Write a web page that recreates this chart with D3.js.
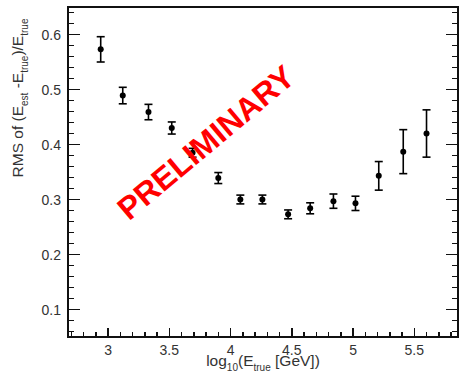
<!DOCTYPE html>
<html lang="en">
	<head>
		<meta charset="utf-8">
		<title>RMS vs log10 E</title>
		<script type="text/javascript" src="https://d3js.org/d3.v7.min.js"></script>
		<style type="text/css">
			body { margin:0; background:#fff; }
			svg text { font-family: "Liberation Sans", Arial, sans-serif; }
			.axis path, .axis line { stroke:#111; shape-rendering: crispEdges; }
			.axis text { fill:#333; font-size:14px; }
		</style>
	</head>
	<body>
		<svg id="chart"></svg>
		<script type="text/javascript">
			// energy bins (log10 E_true) and the RMS with its error
			var logE   = [2.94, 3.12, 3.33, 3.52, 3.69, 3.90, 4.08, 4.26, 4.47, 4.65, 4.84, 5.02, 5.21, 5.41, 5.60];
			var rms    = [0.573, 0.489, 0.459, 0.430, 0.385, 0.339, 0.300, 0.300, 0.273, 0.284, 0.297, 0.293, 0.343, 0.387, 0.420];
			var rmsErr = [0.023, 0.015, 0.014, 0.011, 0.008, 0.010, 0.008, 0.008, 0.008, 0.010, 0.013, 0.013, 0.026, 0.040, 0.043];
			var xTicks = [3, 3.5, 4, 4.5, 5, 5.5];
			var yTicks = [0.1, 0.2, 0.3, 0.4, 0.5, 0.6];

			var w = 459, h = 374;
			var margin = {left:68, right:1, top:7, bottom:37};

			var svg = d3.select("#chart").attr("width", w).attr("height", h);

			var xScale = d3.scaleLinear()
				.domain([2.673, 5.857])
				.range([margin.left, w - margin.right]);
			var yScale = d3.scaleLinear()
				.domain([0.05, 0.65])
				.range([h - margin.bottom, margin.top]);

			var x0 = margin.left, x1 = w - margin.right;
			var y0 = h - margin.bottom, y1 = margin.top;

			// minor ticks
			var xMinor = d3.range(27, 59).map(d => d / 10);
			var yMinor = d3.range(3, 33).map(d => d / 50);

			var g = svg.append("g").attr("class", "axis");

			g.selectAll("line.xminor")
				.data(xMinor)
				.enter()
				.append("line")
				.attr("x1", d => xScale(d)).attr("x2", d => xScale(d))
				.attr("y1", y0).attr("y2", d => y0 - (xTicks.indexOf(d) >= 0 ? 9 : 5))
				.attr("stroke-width", 1.5);

			g.selectAll("line.yminorL")
				.data(yMinor)
				.enter()
				.append("line")
				.attr("x1", x0).attr("x2", d => x0 + (Math.abs(d * 10 - Math.round(d * 10)) < 1e-6 ? 12 : 6))
				.attr("y1", d => yScale(d)).attr("y2", d => yScale(d))
				.attr("stroke-width", 1.5);

			g.selectAll("line.yminorR")
				.data(yMinor)
				.enter()
				.append("line")
				.attr("x1", x1).attr("x2", d => x1 - (Math.abs(d * 10 - Math.round(d * 10)) < 1e-6 ? 12 : 6))
				.attr("y1", d => yScale(d)).attr("y2", d => yScale(d))
				.attr("stroke-width", 1.5);

			// frame
			svg.append("rect")
				.attr("x", x0).attr("y", y1)
				.attr("width", x1 - x0).attr("height", y0 - y1)
				.attr("fill", "none").attr("stroke", "#111").attr("stroke-width", 2);

			// tick labels
			g.selectAll("text.xl")
				.data(xTicks)
				.enter()
				.append("text")
				.attr("x", d => xScale(d))
				.attr("y", y0 + 18)
				.attr("text-anchor", "middle")
				.text(d => d3.format("")(d));

			g.selectAll("text.yl")
				.data(yTicks)
				.enter()
				.append("text")
				.attr("x", x0 - 7)
				.attr("y", d => yScale(d) + 5)
				.attr("text-anchor", "end")
				.text(d => d3.format(".1f")(d));

			// axis titles
			var xt = svg.append("text")
				.attr("x", (x0 + x1) / 2)
				.attr("y", 366)
				.attr("text-anchor", "middle")
				.attr("font-size", "15.5px")
				.attr("fill", "#333");
			xt.append("tspan").text("log");
			xt.append("tspan").attr("font-size", "10px").attr("dy", 5).text("10");
			xt.append("tspan").attr("dy", -5).text("(E");
			xt.append("tspan").attr("font-size", "10px").attr("dy", 5).text("true");
			xt.append("tspan").attr("dy", -5).text(" [GeV])");

			var yt = svg.append("text")
				.attr("transform", "translate(23,98) rotate(-90)")
				.attr("text-anchor", "middle")
				.attr("font-size", "15.5px")
				.attr("fill", "#333");
			yt.append("tspan").text("RMS of (E");
			yt.append("tspan").attr("font-size", "10px").attr("dy", 5).text("est");
			yt.append("tspan").attr("dy", -5).text(" -E");
			yt.append("tspan").attr("font-size", "10px").attr("dy", 5).text("true");
			yt.append("tspan").attr("dy", -5).text(")/E");
			yt.append("tspan").attr("font-size", "10px").attr("dy", 5).text("true");

			// data points with error bars
			var pts = logE.map((d, i) => ({x: d, y: rms[i], e: rmsErr[i]}));
			var pg = svg.append("g");

			pg.selectAll("line.bar")
				.data(pts)
				.enter()
				.append("line")
				.attr("x1", d => xScale(d.x)).attr("x2", d => xScale(d.x))
				.attr("y1", d => yScale(d.y - d.e)).attr("y2", d => yScale(d.y + d.e))
				.attr("stroke", "#000").attr("stroke-width", 1.6);

			pg.selectAll("line.capT")
				.data(pts)
				.enter()
				.append("line")
				.attr("x1", d => xScale(d.x) - 4).attr("x2", d => xScale(d.x) + 4)
				.attr("y1", d => yScale(d.y + d.e)).attr("y2", d => yScale(d.y + d.e))
				.attr("stroke", "#000").attr("stroke-width", 1.6);

			pg.selectAll("line.capB")
				.data(pts)
				.enter()
				.append("line")
				.attr("x1", d => xScale(d.x) - 4).attr("x2", d => xScale(d.x) + 4)
				.attr("y1", d => yScale(d.y - d.e)).attr("y2", d => yScale(d.y - d.e))
				.attr("stroke", "#000").attr("stroke-width", 1.6);

			pg.selectAll("circle")
				.data(pts)
				.enter()
				.append("circle")
				.attr("cx", d => xScale(d.x))
				.attr("cy", d => yScale(d.y))
				.attr("r", 3)
				.attr("fill", "#000");

			// PRELIMINARY stamp
			svg.append("text")
				.attr("transform", "translate(213,151) rotate(-40)")
				.attr("text-anchor", "middle")
				.attr("font-size", "32px")
				.attr("font-weight", "bold")
				.attr("fill", "#ff0000")
				.text("PRELIMINARY");
		</script>
	</body>
</html>
